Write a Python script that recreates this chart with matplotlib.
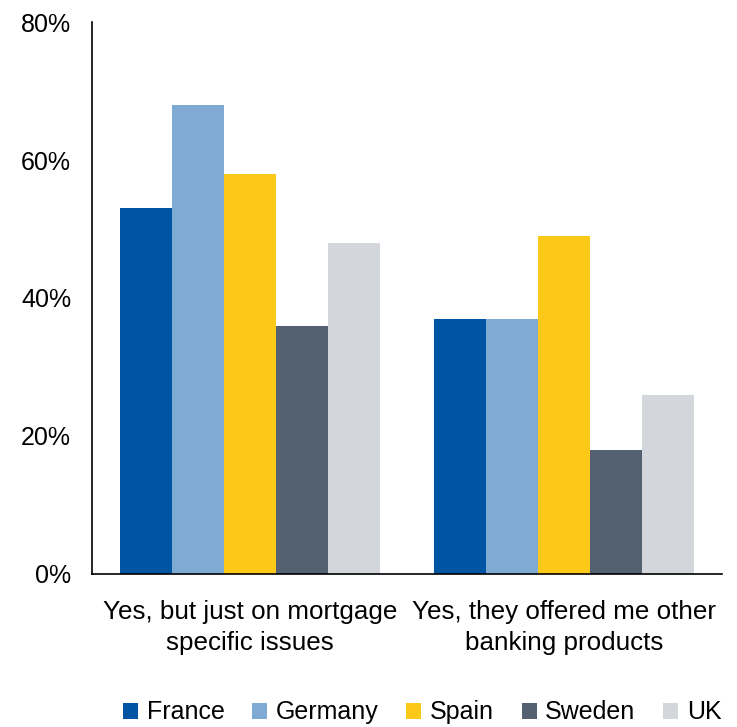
import numpy as np
import matplotlib.pyplot as plt
from matplotlib.ticker import PercentFormatter

plt.rcParams['font.family'] = ['Liberation Sans', 'DejaVu Sans']

categories = ["Yes, but just on mortgage\nspecific issues",
              "Yes, they offered me other\nbanking products"]
countries = ["France", "Germany", "Spain", "Sweden", "UK"]
values = {
    "France":  [53, 37],
    "Germany": [68, 37],
    "Spain":   [58, 49],
    "Sweden":  [36, 18],
    "UK":      [48, 26],
}
colors = ["#0054A4", "#7FAAD3", "#FCC918", "#536170", "#D3D6DB"]

fig = plt.figure(figsize=(7.37, 7.27), dpi=100)
ax = fig.add_axes([0.1248, 0.2105, 0.855, 0.7592])

x = np.arange(len(categories))
width = 0.1656
for i, (name, col) in enumerate(zip(countries, colors)):
    ax.bar(x + (i - 2) * width, values[name], width, color=col, label=name)

ax.set_xlim(-0.503, 1.503)
ax.set_ylim(0, 80)
ax.set_yticks([0, 20, 40, 60, 80])
ax.yaxis.set_major_formatter(PercentFormatter(decimals=0))
ax.set_xticks(x)
ax.set_xticklabels(categories)
ax.tick_params(axis='both', length=0)
ax.tick_params(axis='y', pad=15, labelsize=18)
ax.tick_params(axis='x', pad=18.5, labelsize=18.7)
for lbl in ax.get_xticklabels():
    lbl.set_linespacing(1.38)

for side in ("top", "right"):
    ax.spines[side].set_visible(False)
for side in ("left", "bottom"):
    ax.spines[side].set_linewidth(1.2)
    ax.spines[side].set_color("black")

fig.legend(loc="center", bbox_to_anchor=(0.573, 0.02), ncol=5,
           frameon=False, fontsize=18, handlelength=0.6, handleheight=0.6,
           handletextpad=0.35, columnspacing=1.1, borderaxespad=0,
           borderpad=0)

fig.savefig("out.png", dpi=100)
